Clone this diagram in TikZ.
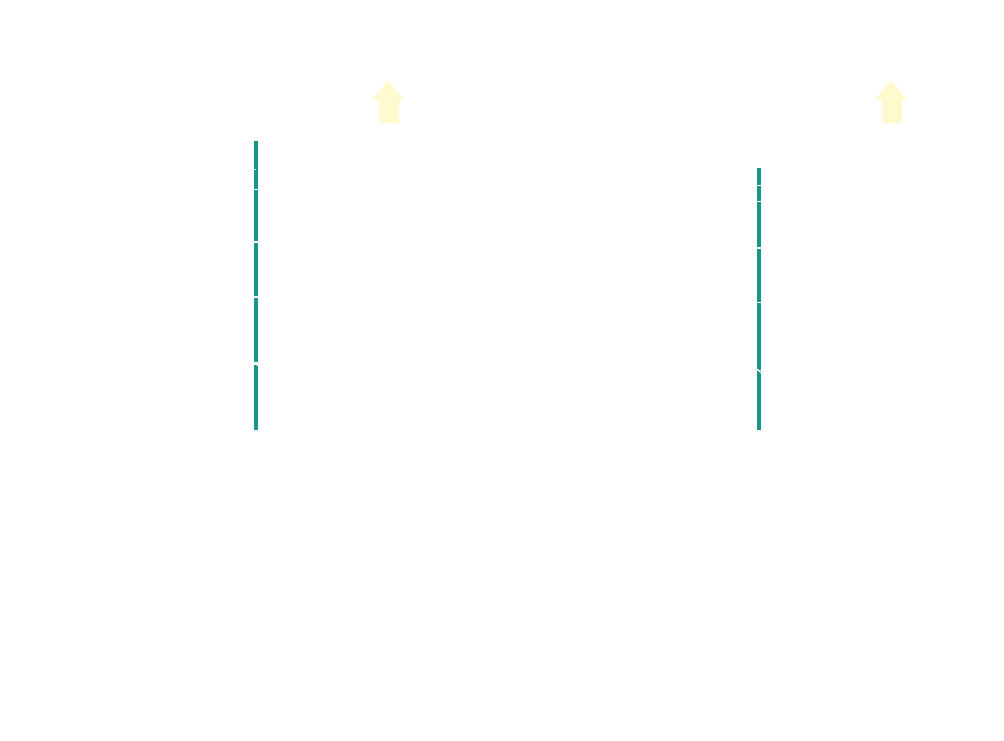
\documentclass[tikz,border=0pt]{standalone}
\definecolor{teal}{RGB}{22,150,136}
\definecolor{pale}{RGB}{255,250,205}
\begin{document}
\begin{tikzpicture}[x=1pt,y=-1pt,
  seg/.style={fill=teal,draw=none},
  up/.style={fill=pale,draw=none}]
\useasboundingbox (0,0) rectangle (1004,740);
% left bar
\foreach \a/\b in {141/189,190/241,243/296,298/362,365/430}
  \fill[teal] (254,\a) rectangle (258,\b);
\draw[white,line width=0.8] (253,169.5) -- (256,169.5);
\draw[white,line width=0.8] (253,361) -- (258,366);
% right bar
\foreach \a/\b in {168/185,186/201,202/247,249/302,303/370,371/430}
  \fill[teal] (757,\a) rectangle (761,\b);
\draw[white,line width=0.8] (756,368) -- (761,373);
% arrows
\fill[pale] (372,100) -- (388,80) -- (404,100) -- (399,100) -- (399,123) -- (379,123) -- (379,100) -- cycle;
\fill[pale] (875,100) -- (891,80) -- (907,100) -- (902,100) -- (902,123) -- (882,123) -- (882,100) -- cycle;
\end{tikzpicture}
\end{document}
